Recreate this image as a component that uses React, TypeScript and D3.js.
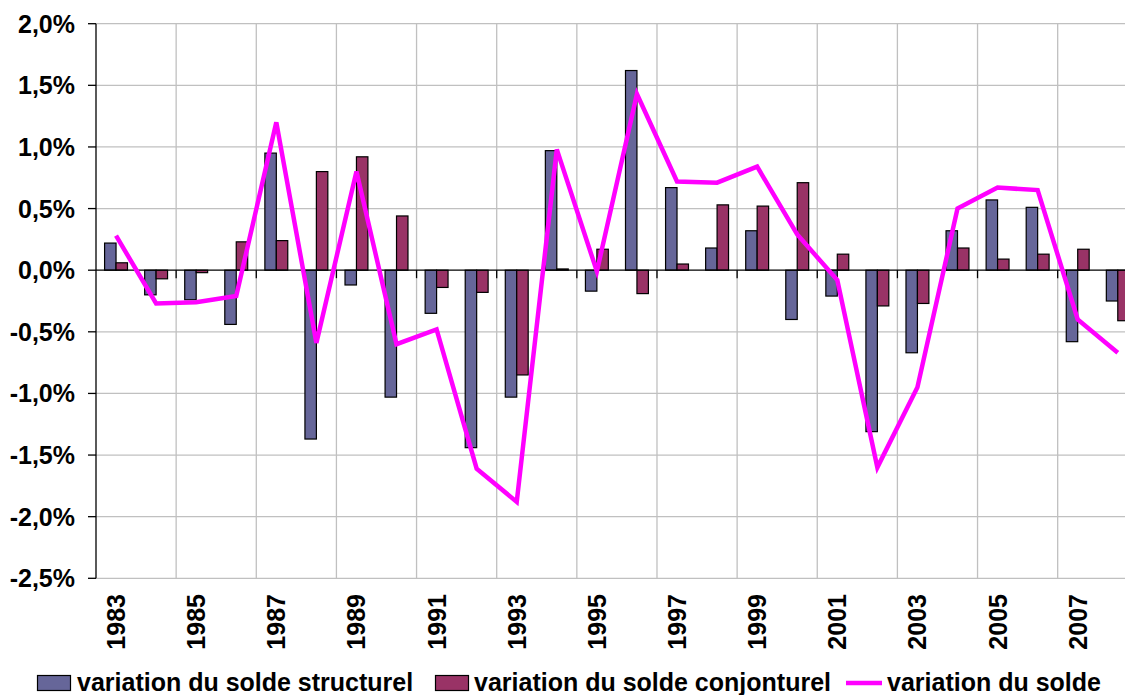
import React from "react";
import * as d3 from "d3";

const years = [
  "1983","1984","1985","1986","1987","1988","1989","1990","1991","1992","1993","1994","1995",
  "1996","1997","1998","1999","2000","2001","2002","2003","2004","2005","2006","2007","2008",
];
const structurel = [
  0.22,-0.20,-0.24,-0.44,0.95,-1.37,-0.12,-1.03,-0.35,-1.44,-1.03,0.97,-0.17,
  1.62,0.67,0.18,0.32,-0.40,-0.21,-1.31,-0.67,0.32,0.57,0.51,-0.58,-0.25,
];
const conjoncturel = [
  0.06,-0.07,-0.02,0.23,0.24,0.80,0.92,0.44,-0.14,-0.18,-0.85,0.01,0.17,
  -0.19,0.05,0.53,0.52,0.71,0.13,-0.29,-0.27,0.18,0.09,0.13,0.17,-0.41,
];
const solde = [
  0.28,-0.27,-0.26,-0.21,1.20,-0.59,0.80,-0.60,-0.48,-1.61,-1.88,0.98,-0.01,
  1.43,0.72,0.71,0.84,0.29,-0.08,-1.60,-0.95,0.50,0.67,0.65,-0.40,-0.67,
];
const yTicks = [2.0,1.5,1.0,0.5,0.0,-0.5,-1.0,-1.5,-2.0,-2.5];
const labelYears = years.filter((_, i) => i % 2 === 0);
const legendLabels = [
  "variation du solde structurel",
  "variation du solde conjonturel",
  "variation du solde",
];

const W = 1125;
const H = 695;
const FONT = "'Liberation Sans', Arial, sans-serif";
const BLUE = "#666699";
const RED = "#993366";
const MAGENTA = "#FF00FF";

export default function App() {
  const left = 96;
  const catW = 40.07;
  const x = d3.scaleBand<string>().domain(years).range([left, left + catW * years.length]).padding(0);
  const inner = d3.scaleBand<string>().domain(["s", "c"]).range([0, x.bandwidth()]).paddingInner(0).paddingOuter(0.75);
  const y = d3.scaleLinear().domain([-2.5, 2.0]).range([578.3, 23.7]);
  const right = left + catW * years.length;
  const fmt = (v: number) => v.toFixed(1).replace(".", ",") + "%";
  const line = d3
    .line<number>()
    .x((_, i) => (x(years[i]) as number) + x.bandwidth() / 2)
    .y((d) => y(d));

  const gridXs = d3.range(2, years.length + 1, 2).map((i) => left + i * x.bandwidth());

  return (
    <svg
      width={W}
      height={H}
      style={{ position: "absolute", left: 0, top: 0, background: "#fff", overflow: "hidden" }}
      fontFamily={FONT}
    >
      <rect x={0} y={0} width={W} height={H} fill="#fff" />
      {/* horizontal grid */}
      {yTicks.filter((t) => t !== 0).map((t) => (
        <line key={"hg" + t} x1={left} x2={right} y1={y(t)} y2={y(t)} stroke="#c0c0c0" strokeWidth={1.3} />
      ))}
      {/* vertical grid */}
      {gridXs.map((gx) => (
        <line key={"vg" + gx} x1={gx} x2={gx} y1={y(2.0)} y2={y(-2.5)} stroke="#c0c0c0" strokeWidth={1.3} />
      ))}
      {/* bars */}
      {years.map((yr, i) => {
        const bx = x(yr) as number;
        const v1 = structurel[i];
        const v2 = conjoncturel[i];
        return (
          <g key={"b" + yr}>
            <rect
              x={bx + (inner("s") as number)}
              y={Math.min(y(v1), y(0))}
              width={inner.bandwidth()}
              height={Math.abs(y(v1) - y(0))}
              fill={BLUE}
              stroke="#000"
              strokeWidth={1.2}
            />
            <rect
              x={bx + (inner("c") as number)}
              y={Math.min(y(v2), y(0))}
              width={inner.bandwidth()}
              height={Math.abs(y(v2) - y(0))}
              fill={RED}
              stroke="#000"
              strokeWidth={1.2}
            />
          </g>
        );
      })}
      {/* zero axis */}
      <line x1={left} x2={right} y1={y(0)} y2={y(0)} stroke="#000" strokeWidth={1.3} />
      {gridXs.map((gx) => (
        <line key={"xt" + gx} x1={gx} x2={gx} y1={y(0)} y2={y(0) + 8} stroke="#000" strokeWidth={1.3} />
      ))}
      {/* line series */}
      <path d={line(solde) || ""} fill="none" stroke={MAGENTA} strokeWidth={4.5} strokeLinejoin="miter" />
      {/* y axis */}
      <line x1={left} x2={left} y1={y(2.0)} y2={y(-2.5)} stroke="#000" strokeWidth={1.3} />
      {yTicks.map((t) => (
        <g key={"yt" + t}>
          <line x1={left - 8} x2={left} y1={y(t)} y2={y(t)} stroke="#000" strokeWidth={1.3} />
          <text x={75} y={y(t)} dy="0.36em" textAnchor="end" fontSize={25} fontWeight="bold" fill="#000">
            {fmt(t)}
          </text>
        </g>
      ))}
      {/* x labels */}
      {labelYears.map((yr) => {
        const cx = (x(yr) as number) + x.bandwidth() / 2;
        return (
          <text
            key={"xl" + yr}
            transform={`translate(${cx},${594}) rotate(-90)`}
            dy="0.36em"
            textAnchor="end"
            fontSize={25}
            fontWeight="bold"
            fill="#000"
          >
            {yr}
          </text>
        );
      })}
      {/* legend */}
      <g fontSize={25} fontWeight="bold">
        <rect x={37.5} y={675.5} width={33} height={15} fill={BLUE} stroke="#000" strokeWidth={1.2} />
        <text x={77} y={691} fill="#000">{legendLabels[0]}</text>
        <rect x={435.5} y={675.5} width={33} height={15} fill={RED} stroke="#000" strokeWidth={1.2} />
        <text x={474} y={691} fill="#000">{legendLabels[1]}</text>
        <line x1={846} x2={882} y1={683} y2={683} stroke={MAGENTA} strokeWidth={4.5} />
        <text x={887} y={691} fill="#000">{legendLabels[2]}</text>
      </g>
    </svg>
  );
}
